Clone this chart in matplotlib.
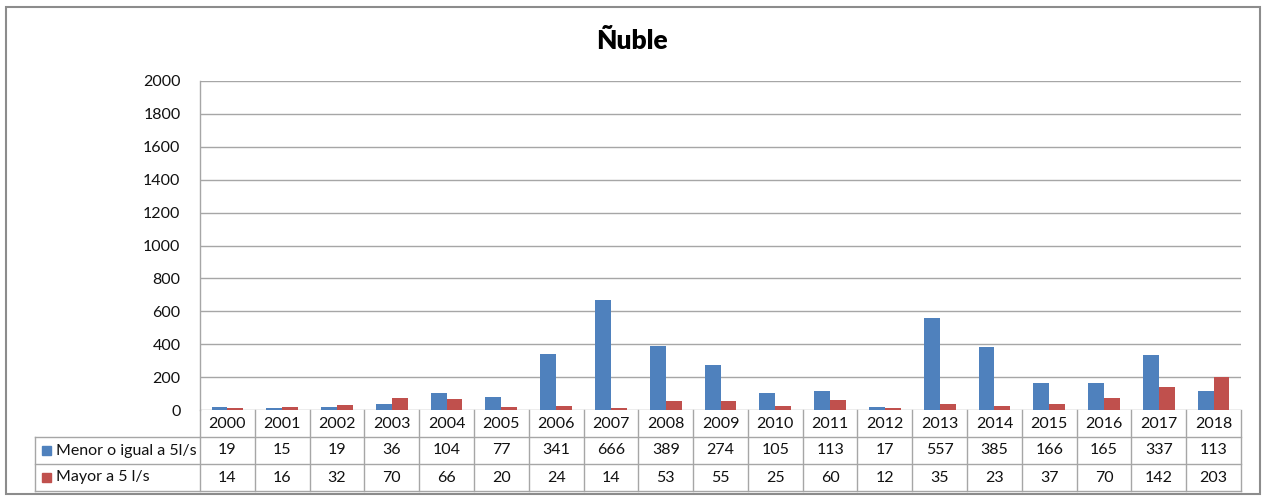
import matplotlib
matplotlib.use("Agg")
import matplotlib.pyplot as plt
from matplotlib.patches import Rectangle
from matplotlib.lines import Line2D

plt.rcParams['font.family'] = ['Lato', 'DejaVu Sans']

title = "Ñuble"
years = ["2000", "2001", "2002", "2003", "2004", "2005", "2006", "2007", "2008", "2009",
         "2010", "2011", "2012", "2013", "2014", "2015", "2016", "2017", "2018"]
series_names = ["Menor o igual a 5l/s", "Mayor a 5 l/s"]
menor = [19, 15, 19, 36, 104, 77, 341, 666, 389, 274, 105, 113, 17, 557, 385, 166, 165, 337, 113]
mayor = [14, 16, 32, 70, 66, 20, 24, 14, 53, 55, 25, 60, 12, 35, 23, 37, 70, 142, 203]
y_ticks = [0, 200, 400, 600, 800, 1000, 1200, 1400, 1600, 1800, 2000]

colors = ["#4F81BD", "#C0504D"]
grid_col = "#A6A6A6"
line_col = "#A6A6A6"
text_col = "#111111"
fs = 11.5

W, H = 1264, 496
fig = plt.figure(figsize=(W / 100, H / 100), dpi=100)

def fx(px):
    return px / W

def fy(py):
    return 1 - py / H

# outer chart border
fig.patches.append(Rectangle((fx(6), fy(494)), fx(1260) - fx(6), fy(7) - fy(494),
                             transform=fig.transFigure, fill=False,
                             edgecolor="#8C8C8C", linewidth=1.5))

# plot area
left, right, top, zero = 200, 1241, 81, 410
ax = fig.add_axes([fx(left), fy(zero), fx(right) - fx(left), fy(top) - fy(zero)])
n = len(years)
x = list(range(n))
bw = 0.29
ax.bar([i - bw / 2 for i in x], menor, width=bw, color=colors[0], zorder=3)
ax.bar([i + bw / 2 for i in x], mayor, width=bw, color=colors[1], zorder=3)
ax.set_xlim(-0.5, n - 0.5)
ax.set_ylim(0, 2000)
ax.set_yticks(y_ticks)
ax.set_yticklabels([str(v) for v in y_ticks], fontsize=fs, color=text_col)
ax.tick_params(axis='y', length=0, pad=14)
ax.set_xticks([])
ax.yaxis.grid(True, color=grid_col, linewidth=1, zorder=0)
for s in ["top", "right", "bottom"]:
    ax.spines[s].set_visible(False)
ax.spines["left"].set_color(line_col)
ax.spines["left"].set_linewidth(1)

fig.text(0.5, fy(41), title, ha="center", va="center", fontsize=19, fontweight="heavy")

# data table below the plot
tb_bottom = 491
legend_left = 35
tax = fig.add_axes([fx(left), fy(tb_bottom), fx(right) - fx(left), fy(zero) - fy(tb_bottom)])
tax.set_xlim(-0.5, n - 0.5)
tax.set_ylim(3, 0)
tax.axis("off")
cw = (right - left) / n
x_leg = -0.5 - (left - legend_left) / cw

lk = dict(color=line_col, linewidth=1, clip_on=False)
# horizontal rules
tax.add_line(Line2D([-0.5, n - 0.5], [1, 1], **lk))
tax.add_line(Line2D([x_leg, n - 0.5], [2, 2], **lk))
tax.add_line(Line2D([x_leg, n - 0.5], [3, 3], **lk))
tax.add_line(Line2D([x_leg, -0.5], [1, 1], **lk))
tax.add_line(Line2D([x_leg, x_leg], [1, 3], **lk))
# vertical rules
for i in range(n + 1):
    tax.add_line(Line2D([i - 0.5, i - 0.5], [0, 3], **lk))

for i, yr in enumerate(years):
    tax.text(i, 0.5, yr, ha="center", va="center", fontsize=fs, color=text_col)
    tax.text(i, 1.5, str(menor[i]), ha="center", va="center", fontsize=fs, color=text_col)
    tax.text(i, 2.5, str(mayor[i]), ha="center", va="center", fontsize=fs, color=text_col)

sq = 9 / cw
for r, (name, c) in enumerate(zip(series_names, colors)):
    yc = 1.5 + r
    tax.add_patch(Rectangle((x_leg + 7 / cw, yc - 0.17), sq, 0.34, color=c, clip_on=False))
    tax.text(x_leg + 21 / cw, yc, name, ha="left", va="center", fontsize=fs, color=text_col)

fig.savefig("out.png", dpi=100)
